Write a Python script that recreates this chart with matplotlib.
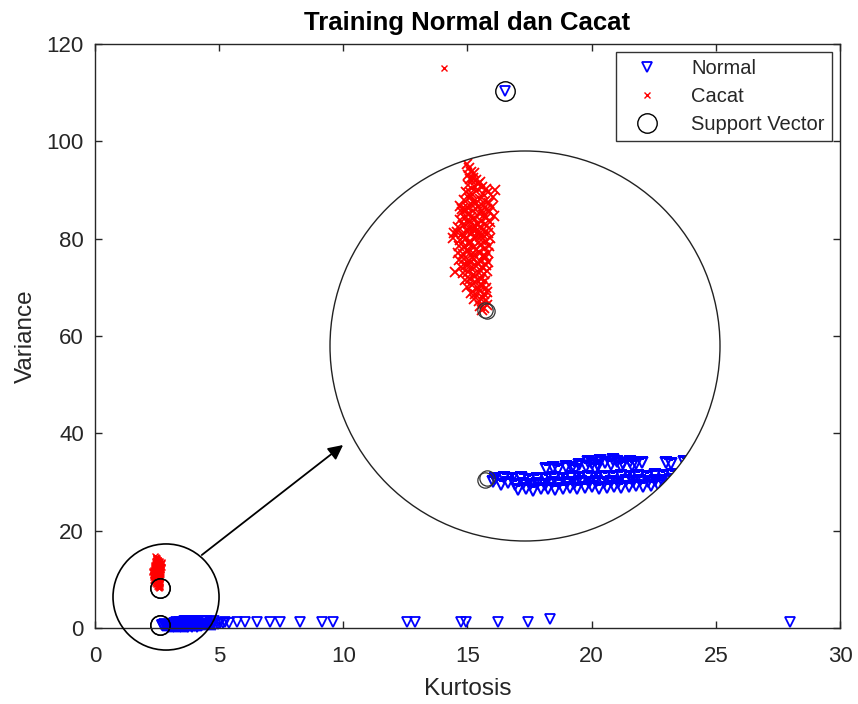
import matplotlib
matplotlib.use('Agg')
import matplotlib.pyplot as plt
from matplotlib.patches import Circle, Ellipse

plt.rcParams['font.family'] = ['Liberation Sans', 'DejaVu Sans']

# cacat (defect) samples: kurtosis, variance
cacat_x = [2.43, 2.45, 2.47, 2.50, 2.44, 2.46, 2.52, 2.49, 2.55, 2.44, 2.50, 2.57, 2.53, 2.61,
           2.42, 2.47, 2.52, 2.58, 2.63, 2.70, 2.68, 2.40, 2.45, 2.50, 2.55, 2.60, 2.64,
           2.36, 2.43, 2.48, 2.53, 2.58, 2.62, 2.67, 2.38, 2.44, 2.49, 2.54, 2.59, 2.64, 2.69,
           2.36, 2.41, 2.46, 2.51, 2.56, 2.61, 2.65, 2.34, 2.39, 2.45, 2.50, 2.55, 2.60, 2.64,
           2.33, 2.38, 2.43, 2.48, 2.53, 2.58, 2.63, 2.30, 2.36, 2.41, 2.46, 2.51, 2.56, 2.61, 2.65,
           2.35, 2.40, 2.45, 2.50, 2.55, 2.60, 2.64, 2.34, 2.39, 2.44, 2.49, 2.54, 2.59, 2.63,
           2.35, 2.40, 2.45, 2.50, 2.55, 2.60, 2.63, 2.37, 2.42, 2.47, 2.52, 2.57, 2.61,
           2.32, 2.39, 2.44, 2.49, 2.54, 2.59, 2.62, 2.41, 2.46, 2.51, 2.56, 2.60,
           2.43, 2.48, 2.53, 2.57, 2.61, 2.47, 2.51, 2.55, 2.59, 2.62, 2.50, 2.54, 2.58, 2.61,
           2.55, 2.59, 2.62, 2.57, 2.38, 2.31,
           2.47, 2.52, 2.42, 2.57, 2.47, 2.53, 2.44, 2.58, 2.49, 2.40, 2.55, 2.46, 2.52, 2.43,
           2.58, 2.48, 2.53, 2.45, 2.51, 2.56, 14.06]
cacat_y = [14.78, 14.62, 14.45, 14.38, 14.31, 14.12, 14.05, 14.18, 13.98, 13.83, 13.78, 13.74, 13.90, 13.68,
           13.55, 13.49, 13.58, 13.45, 13.52, 13.62, 13.30, 13.18, 13.25, 13.12, 13.22, 13.15, 13.05,
           12.92, 12.88, 12.95, 12.84, 12.91, 12.78, 12.85, 12.62, 12.55, 12.66, 12.58, 12.52, 12.63, 12.47,
           12.28, 12.35, 12.22, 12.31, 12.25, 12.38, 12.20, 11.98, 12.05, 11.92, 12.02, 11.95, 12.08, 11.90,
           11.72, 11.65, 11.78, 11.68, 11.75, 11.62, 11.70, 11.45, 11.38, 11.44, 11.35, 11.48, 11.40, 11.33, 11.46,
           11.12, 11.05, 11.18, 11.08, 11.15, 11.02, 11.10, 10.82, 10.75, 10.88, 10.78, 10.85, 10.72, 10.80,
           10.48, 10.55, 10.42, 10.52, 10.45, 10.58, 10.40, 10.18, 10.25, 10.12, 10.22, 10.15, 10.28,
           9.95, 9.88, 9.95, 9.82, 9.92, 9.85, 9.98, 9.58, 9.65, 9.52, 9.62, 9.55,
           9.28, 9.35, 9.22, 9.32, 9.25, 9.02, 8.95, 9.08, 8.98, 9.05, 8.72, 8.65, 8.78, 8.68,
           8.42, 8.35, 8.48, 8.25, 12.75, 11.70,
           13.35, 13.02, 12.72, 12.70, 12.42, 12.12, 12.14, 11.82, 11.85, 11.55, 11.55, 11.25,
           10.95, 10.95, 10.65, 10.62, 10.32, 10.30, 9.75, 9.42, 115.1]

# normal samples: kurtosis, variance
normal_x = [2.92, 2.99, 3.06, 3.13, 3.20, 3.27, 3.34, 3.41, 3.48, 3.55, 3.62, 3.69, 3.76, 3.83,
            3.90, 3.97, 4.04, 4.11, 4.18, 4.25,
            2.68, 2.75, 2.82, 2.89, 2.96, 3.03, 3.10, 3.17, 3.24, 3.31, 3.38, 3.45, 3.52, 3.59,
            3.66, 3.73, 3.80, 3.87, 3.94, 4.01, 4.08, 4.15, 4.22, 4.29, 4.36, 4.43, 4.50, 4.58,
            4.66, 4.75, 4.85,
            2.70, 2.78, 2.86, 2.94, 3.02, 3.10, 3.18, 3.26, 3.34, 3.42, 3.50, 3.58, 3.66, 3.74,
            3.82, 3.90, 3.98, 4.06, 4.14, 4.22, 4.30, 4.38, 4.46, 4.55,
            3.18, 3.25, 3.30, 3.37, 3.43, 3.50, 3.56, 3.62, 3.68, 3.74, 3.80, 3.86, 3.92, 3.98,
            4.04, 4.10, 3.58, 3.70, 3.82, 3.46, 3.65, 3.90, 4.00,
            4.32, 4.37, 4.50, 4.62, 4.78, 4.95, 5.05, 5.15, 5.25, 5.38,
            5.71, 6.04, 6.51, 7.05, 7.45, 8.26, 9.13, 9.60,
            12.55, 12.89, 14.72, 14.95, 16.23, 17.44, 18.32, 27.99, 16.51]
normal_y = [0.18, 0.22, 0.15, 0.20, 0.24, 0.17, 0.22, 0.26, 0.20, 0.25, 0.30, 0.24, 0.28, 0.32,
            0.27, 0.31, 0.36, 0.30, 0.35, 0.40,
            0.55, 0.42, 0.47, 0.38, 0.44, 0.40, 0.46, 0.41, 0.48, 0.43, 0.50, 0.45, 0.52, 0.47,
            0.53, 0.49, 0.55, 0.50, 0.57, 0.52, 0.58, 0.54, 0.60, 0.56, 0.62, 0.58, 0.64, 0.60,
            0.66, 0.62, 0.68,
            0.68, 0.72, 0.66, 0.70, 0.64, 0.69, 0.66, 0.72, 0.68, 0.74, 0.70, 0.76, 0.72, 0.78,
            0.74, 0.80, 0.76, 0.82, 0.78, 0.84, 0.80, 0.86, 0.82, 0.88,
            1.12, 1.18, 1.08, 1.22, 1.14, 1.30, 1.20, 1.35, 1.26, 1.40, 1.30, 1.44, 1.34, 1.42,
            1.32, 1.38, 1.42, 1.48, 1.50, 1.05, 1.10, 1.20, 1.25,
            1.40, 1.35, 1.42, 1.30, 1.45, 0.90, 1.10, 0.95, 1.20, 1.05,
            1.20, 1.25, 1.20, 1.30, 1.25, 1.20, 1.25, 1.20,
            1.20, 1.20, 1.15, 1.20, 1.20, 1.20, 1.80, 1.20, 110.3]

# support vectors
sv_x = [2.62, 2.60, 2.62, 2.60, 16.51]
sv_y = [8.20, 8.26, 0.70, 0.64, 110.3]

dark = '#262626'

fig = plt.figure(figsize=(8.58, 7.04), dpi=100)
ax = fig.add_axes([95/858, 76/704, 745/858, 584/704])

ax.plot(normal_x, normal_y, 'v', ls='none', mfc='none', mec='b', ms=7, mew=1.3,
        label='Normal', clip_on=False)
ax.plot(cacat_x, cacat_y, 'x', ls='none', color='r', ms=5, mew=1,
        label='Cacat', clip_on=False)
ax.plot(sv_x, sv_y, 'o', ls='none', mfc='none', mec='k', ms=14, mew=1,
        label='Support Vector', clip_on=False)

ax.set_xlim(0, 30)
ax.set_ylim(0, 120)
ax.set_xticks(range(0, 31, 5))
ax.set_yticks(range(0, 121, 20))
ax.tick_params(direction='in', top=True, right=True, length=5, width=1,
               colors=dark, labelsize=16)
ax.tick_params(axis='x', pad=13)
ax.tick_params(axis='y', pad=8)
for s in ax.spines.values():
    s.set_color(dark)
    s.set_linewidth(1)

ax.set_xlabel('Kurtosis', fontsize=17.5, color=dark, labelpad=8)
ax.set_ylabel('Variance', fontsize=17.5, color=dark, labelpad=7)
ax.set_title('Training Normal dan Cacat', fontsize=18.5, fontweight='bold',
             color='black', pad=10)

leg = ax.legend(loc='upper right', fontsize=14.5, frameon=True, fancybox=False,
                edgecolor='black', borderaxespad=0.4, labelspacing=0.45,
                handlelength=2.4, handletextpad=1.0, borderpad=0.35, numpoints=1)
leg.get_frame().set_linewidth(1)
for t in leg.get_texts():
    t.set_color(dark)

# ring around the cluster near the origin and the arrow to the zoom
ax.add_patch(Ellipse((2.86, 6.37), 4.27, 21.8, fill=False, ec='k', lw=1.2,
                     clip_on=False, zorder=5))
ax.annotate('', xy=(9.99, 37.6), xytext=(4.30, 15.0),
            arrowprops=dict(arrowstyle='-|>', color='k', lw=1.3,
                            mutation_scale=22, shrinkA=0, shrinkB=0))

# magnified circular view
axz = fig.add_axes([330/858, 1 - 541/704, 390/858, 390/704])
axz.set_xlim(1.125, 4.839)
axz.set_ylim(-2.11, 15.37)
axz.axis('off')
bg = Circle((0.5, 0.5), 0.5, transform=axz.transAxes, fc='white', ec='none', zorder=0)
axz.add_patch(bg)
clip = Circle((0.5, 0.5), 0.5, transform=axz.transAxes)
lines = []
lines += axz.plot(normal_x, normal_y, 'v', ls='none', mfc='none', mec='b', ms=7, mew=1.5)
lines += axz.plot(cacat_x, cacat_y, 'x', ls='none', color='r', ms=6.5, mew=1.3)
lines += axz.plot(sv_x, sv_y, 'o', ls='none', mfc='none', mec='#333333', ms=11, mew=0.9)
for ln in lines:
    ln.set_clip_path(clip)
axz.add_patch(Circle((0.5, 0.5), 0.5, transform=axz.transAxes, fill=False,
                     ec='#222222', lw=1, zorder=10, clip_on=False))

fig.savefig('out.png', dpi=100)
